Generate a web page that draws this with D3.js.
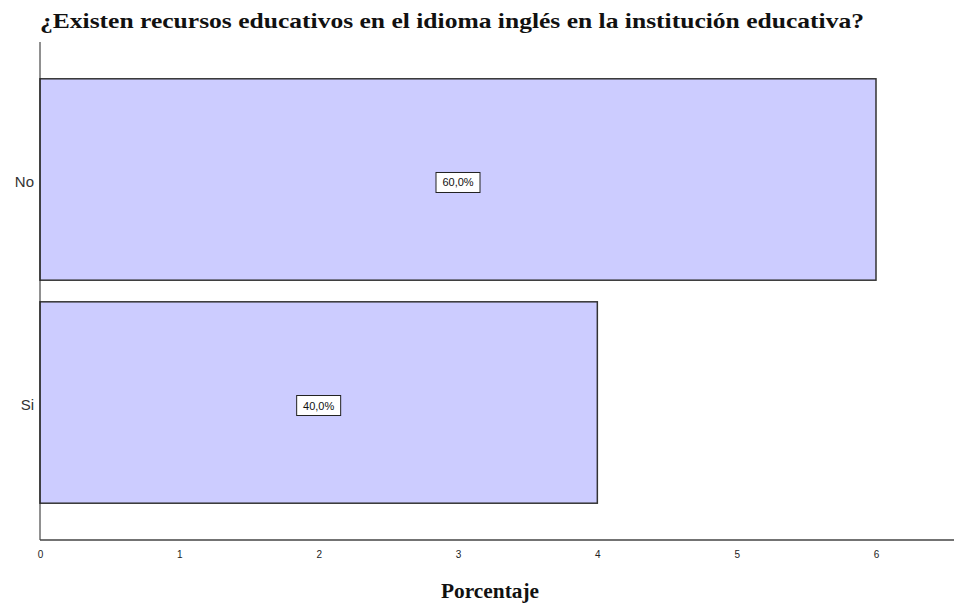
<!DOCTYPE html>
<html><head><meta charset="utf-8">
<script src="https://cdn.jsdelivr.net/npm/d3@7"></script>
<style>body{margin:0;background:#fff}</style>
</head><body>
<svg id="c" width="954" height="603"></svg>
<script>
const categories = ["No", "Si"];
const values = [6, 4];
const labels = ["60,0%", "40,0%"];
const xTicks = [0, 1, 2, 3, 4, 5, 6];
const title = "¿Existen recursos educativos en el idioma inglés en la institución educativa?";
const xTitle = "Porcentaje";

const svg = d3.select("#c");
const mLeft = 40, mRight = 954, mTop = 42, mBottom = 540;
const x = d3.scaleLinear().domain([0, 6]).range([mLeft, 876]);
const y = d3.scaleBand().domain(categories).range([mTop, mBottom]).paddingInner(0.097).paddingOuter(0.165);

svg.append("text").attr("x", 40).attr("y", 28).attr("font-family", "Liberation Serif")
  .attr("font-weight", "bold").attr("font-size", 21).attr("fill", "#111")
  .attr("textLength", 824).attr("lengthAdjust", "spacingAndGlyphs").text(title);

svg.selectAll("rect.bar").data(values).enter().append("rect")
  .attr("x", x(0)).attr("y", (d, i) => y(categories[i]))
  .attr("width", d => x(d) - x(0)).attr("height", y.bandwidth())
  .attr("fill", "#ccccff").attr("stroke", "#333").attr("stroke-width", 1.5);

svg.append("line").attr("x1", mLeft).attr("x2", mLeft).attr("y1", mTop).attr("y2", mBottom)
  .attr("stroke", "#222").attr("stroke-width", 1);
svg.append("line").attr("x1", mLeft).attr("x2", mRight).attr("y1", mBottom).attr("y2", mBottom)
  .attr("stroke", "#444").attr("stroke-width", 1.5);

const xa = svg.append("g").attr("transform", `translate(0,${mBottom})`)
  .call(d3.axisBottom(x).tickValues(xTicks).tickSize(0).tickPadding(11).tickFormat(d3.format("d")));
xa.select(".domain").remove();
xa.selectAll("text").attr("font-family", "Liberation Sans").attr("font-size", 10).attr("fill", "#222");

const ya = svg.append("g").attr("transform", `translate(${mLeft},3)`)
  .call(d3.axisLeft(y).tickSize(0).tickPadding(6));
ya.select(".domain").remove();
ya.selectAll("text").attr("font-family", "Liberation Sans").attr("font-size", 15).attr("fill", "#333");

svg.append("text").attr("x", 490).attr("y", 598).attr("text-anchor", "middle")
  .attr("font-family", "Liberation Serif").attr("font-weight", "bold").attr("font-size", 20)
  .attr("fill", "#111").attr("textLength", 98).attr("lengthAdjust", "spacingAndGlyphs").text(xTitle);

const lg = svg.selectAll("g.lbl").data(values).enter().append("g")
  .attr("transform", (d, i) => `translate(${(x(0) + x(d)) / 2},${y(categories[i]) + y.bandwidth() / 2 + 3})`);
lg.append("rect").attr("x", -22).attr("y", -10).attr("width", 44).attr("height", 20)
  .attr("fill", "#fff").attr("stroke", "#222").attr("stroke-width", 1);
lg.append("text").attr("text-anchor", "middle").attr("dy", 4).attr("font-family", "Liberation Sans")
  .attr("font-size", 11).attr("fill", "#111").text((d, i) => labels[i]);
</script>
</body></html>
